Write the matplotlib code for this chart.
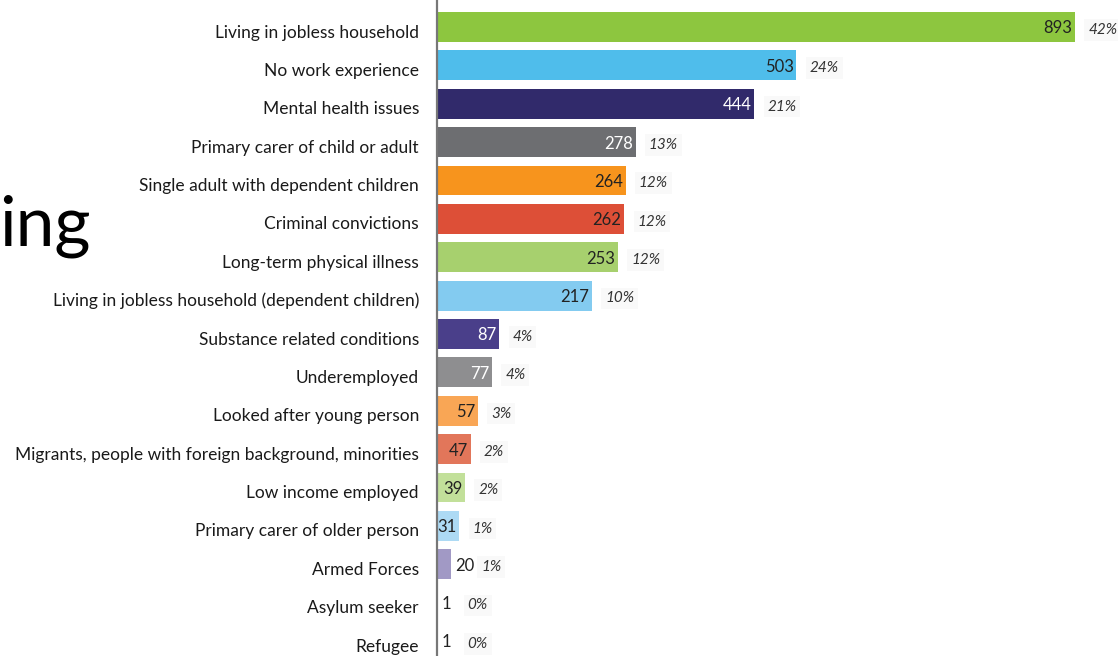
import matplotlib
matplotlib.use("Agg")
import matplotlib.pyplot as plt
import matplotlib.transforms as mtransforms

categories = [
    "Living in jobless household",
    "No work experience",
    "Mental health issues",
    "Primary carer of child or adult",
    "Single adult with dependent children",
    "Criminal convictions",
    "Long-term physical illness",
    "Living in jobless household (dependent children)",
    "Substance related conditions",
    "Underemployed",
    "Looked after young person",
    "Migrants, people with foreign background, minorities",
    "Low income employed",
    "Primary carer of older person",
    "Armed Forces",
    "Asylum seeker",
    "Refugee",
]
values = [893, 503, 444, 278, 264, 262, 253, 217, 87, 77, 57, 47, 39, 31, 20, 1, 1]
percents = ["42%", "24%", "21%", "13%", "12%", "12%", "12%", "10%", "4%", "4%",
            "3%", "2%", "2%", "1%", "1%", "0%", "0%"]
colors = ["#8DC63F", "#4FBDEB", "#312A6B", "#6D6E71", "#F7941D", "#DD4F37",
          "#A7D06E", "#83CBF0", "#4A3F8A", "#8E8E90", "#F9A655", "#E2765A",
          "#C2E09A", "#ADDAF4", "#A199C5", "#6F6F73", "#F0A98A"]
label_colors = ["#222222", "#222222", "white", "white", "#222222", "#222222",
                "#222222", "#222222", "white", "white", "#222222", "#222222",
                "#222222", "#222222", "#222222", "#222222", "#222222"]

plt.rcParams['font.family'] = ['Lato', 'DejaVu Sans']

W, H = 1118, 656
fig = plt.figure(figsize=(W / 100, H / 100), dpi=100)
ax_left = 437 / W
ax_right = 1075 / W
ax = fig.add_axes([ax_left, 0, ax_right - ax_left, 1])

pos = list(range(len(categories)))
ax.barh(pos, values, height=0.78, color=colors, zorder=2)

ax.set_xlim(0, 893)
spacing = 38.375
ax.set_ylim(16 + 15 / spacing, -27 / spacing)

ax.set_yticks(pos)
ax.set_yticklabels(categories, fontsize=12.5, color="#1a1a1a")
ax.tick_params(axis='y', length=0, pad=13)
shift = mtransforms.ScaledTranslation(0, -4 / 100, fig.dpi_scale_trans)
for lbl in ax.get_yticklabels():
    lbl.set_transform(lbl.get_transform() + shift)
ax.set_xticks([])
for s in ["top", "right", "bottom"]:
    ax.spines[s].set_visible(False)
ax.spines["left"].set_color("#777777")
ax.spines["left"].set_linewidth(1.6)
ax.spines["left"].set_zorder(3)

box = dict(boxstyle="square,pad=0.25", fc="#f9f9f9", ec="none")
for i, (v, p) in enumerate(zip(values, percents)):
    if v >= 30:
        ax.annotate(str(v), xy=(v, i), xytext=(-2, -1), textcoords="offset points",
                    ha="right", va="center", fontsize=12, color=label_colors[i], zorder=4)
        ax.annotate(p, xy=(v, i), xytext=(9.5, -2), textcoords="offset points",
                    ha="left", va="center", fontsize=11, style="italic", color="#333333",
                    bbox=box, annotation_clip=False, zorder=4)
    else:
        ax.annotate(str(v), xy=(v, i), xytext=(3, -1), textcoords="offset points",
                    ha="left", va="center", fontsize=12, color="#222222", zorder=4)
        ax.annotate(p, xy=(v, i), xytext=(21.5, -2), textcoords="offset points",
                    ha="left", va="center", fontsize=11, style="italic", color="#333333",
                    bbox=box, annotation_clip=False, zorder=4)

fig.text(-0.001, 1 - 226 / H, "ing", fontsize=50, color="black", ha="left", va="center")

fig.savefig("out.png", dpi=100)
